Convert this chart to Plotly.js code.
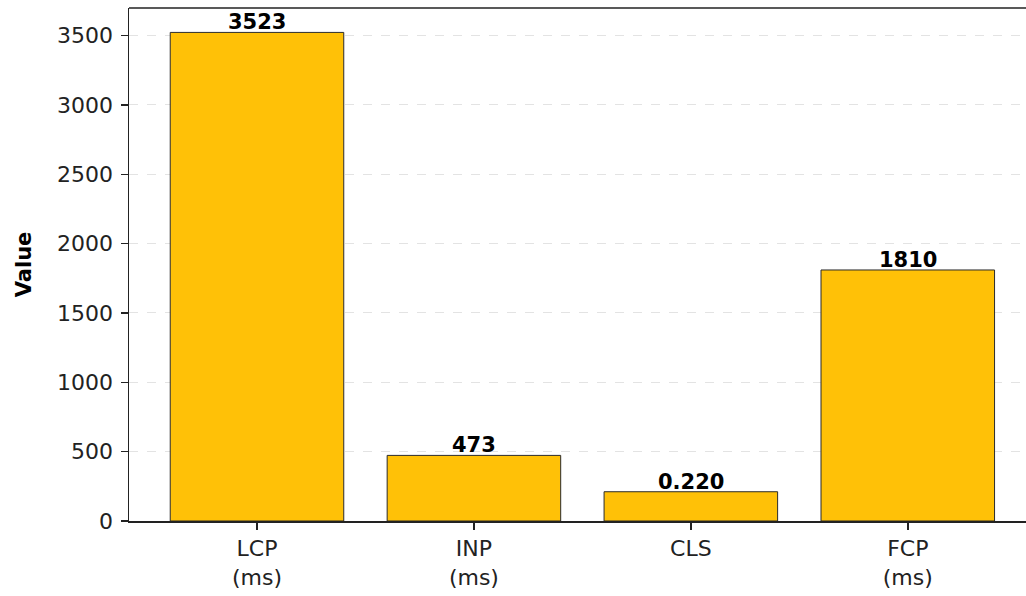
<!DOCTYPE html>
<html>
<head>
<meta charset="utf-8">
<script src="https://cdn.plot.ly/plotly-3.0.1.min.js"></script>
<style>html,body{margin:0;padding:0;background:#fff;overflow:hidden;}</style>
</head>
<body>
<div id="chart" style="width:1026px;height:596px;"></div>
<script>
const categories = ["LCP<br>(ms)", "INP<br>(ms)", "CLS", "FCP<br>(ms)"];
const barValues = [3523, 473, 211, 1810];
const valueLabels = ["3523", "473", "0.220", "1810"];
const yTickValues = [0, 500, 1000, 1500, 2000, 2500, 3000, 3500];

const trace = {
  type: "bar",
  x: categories,
  y: barValues,
  width: 0.8,
  marker: {color: "#FFC107", line: {color: "#2b2b2b", width: 1}},
  hoverinfo: "skip"
};

const annotations = categories.map((c, i) => ({
  x: c, y: barValues[i], text: "<b>" + valueLabels[i] + "</b>",
  xref: "x", yref: "y", showarrow: false, yanchor: "bottom", yshift: -4,
  font: {family: "DejaVu Sans", size: 21, color: "#000"}
}));

const layout = {
  width: 1026, height: 596,
  margin: {l: 129, r: 0, t: 8, b: 75},
  paper_bgcolor: "#fff", plot_bgcolor: "#fff",
  showlegend: false,
  font: {family: "DejaVu Sans", size: 22, color: "#000"},
  xaxis: {
    type: "category",
    range: [-0.59, 3.545],
    showline: true, linecolor: "#222", linewidth: 1.5,
    ticks: "outside", ticklen: 7, tickwidth: 1.5, tickcolor: "#222",
    showgrid: false, zeroline: false,
    tickfont: {family: "DejaVu Sans", size: 22, color: "#222"}
  },
  yaxis: {
    range: [0, 3699],
    tickvals: yTickValues,
    ticktext: yTickValues.map(String),
    showline: true, linecolor: "#222", linewidth: 1.5,
    ticks: "outside", ticklen: 7, tickwidth: 1.5, tickcolor: "#222",
    ticklabelstandoff: 3,
    showgrid: true, gridcolor: "#e3e3e3", griddash: "dash", gridwidth: 1,
    zeroline: false,
    tickfont: {family: "DejaVu Sans", size: 22, color: "#222"},
    title: {text: "<b>Value</b>", font: {family: "DejaVu Sans", size: 21, color: "#000"}, standoff: 19}
  },
  shapes: [{
    type: "line", xref: "paper", yref: "paper", x0: 0, x1: 1, y0: 1, y1: 1,
    line: {color: "#222", width: 1.5}
  }],
  annotations: annotations
};

Plotly.newPlot("chart", [trace], layout, {displayModeBar: false, staticPlot: true});
</script>
</body>
</html>
